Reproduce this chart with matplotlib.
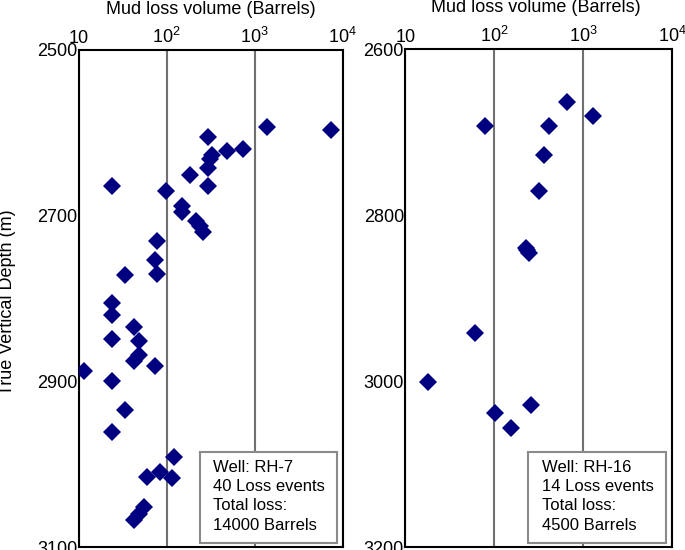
import matplotlib
matplotlib.use("Agg")
import matplotlib.pyplot as plt
from matplotlib.patches import Rectangle

plt.rcParams['font.family'] = ['Liberation Sans', 'DejaVu Sans']
plt.rcParams['mathtext.fontset'] = 'custom'
plt.rcParams['mathtext.rm'] = 'Liberation Sans'

# ---- data ----
vol_rh7 = [1370, 7330, 296, 731, 482, 329, 307, 296, 182, 24,
           296, 97, 148, 148, 217, 237, 258, 78, 73, 78,
           34, 24, 24, 42, 24, 48, 48, 42, 73, 11.5,
           24, 34, 24, 120, 60, 83, 115, 55, 48, 42]
depth_rh7 = [2593, 2596, 2605, 2620, 2622, 2627, 2631, 2643, 2651, 2664,
             2664, 2670, 2688, 2696, 2707, 2713, 2720, 2731, 2754, 2770,
             2772, 2806, 2820, 2834, 2849, 2851, 2868, 2876, 2881, 2887,
             2899, 2935, 2961, 2991, 3016, 3010, 3017, 3052, 3060, 3067]

vol_rh16 = [661, 1294, 78.7, 415, 362, 318, 225, 245, 235, 60.7, 18.1, 102, 258, 153]
depth_rh16 = [2664, 2680, 2693, 2693, 2727, 2771, 2839, 2845, 2842, 2942, 3001, 3038, 3029, 3056]

x_ticks = [10, 100, 1000, 10000]
x_ticklabels = ['10', r'$\mathregular{10^2}$', r'$\mathregular{10^3}$', r'$\mathregular{10^4}$']
y_ticks_rh7 = [2500, 2700, 2900, 3100]
y_ticks_rh16 = [2600, 2800, 3000, 3200]
info_rh7 = "Well: RH-7\n40 Loss events\nTotal loss:\n14000 Barrels"
info_rh16 = "Well: RH-16\n14 Loss events\nTotal loss:\n4500 Barrels"
xlabel = "Mud loss volume (Barrels)"
ylabel = "True Vertical Depth (m)"

W, H = 685, 550
fig = plt.figure(figsize=(W / 100, H / 100), dpi=100)

def make_panel(rect, vols, depths, yticks, info, box, textx):
    ax = fig.add_axes(rect)
    ax.set_xscale('log')
    ax.set_xlim(10, 10000)
    ax.set_ylim(yticks[-1], yticks[0])
    ax.set_xticks(x_ticks)
    ax.set_xticklabels(x_ticklabels)
    ax.minorticks_off()
    ax.set_yticks(yticks)
    ax.xaxis.tick_top()
    ax.tick_params(axis='both', length=0, labelsize=13)
    ax.tick_params(axis='x', pad=2.5)
    ax.tick_params(axis='y', pad=1)
    ax.grid(True, axis='x', color='#707070', linewidth=1.5)
    ax.set_axisbelow(True)
    for s in ax.spines.values():
        s.set_linewidth(1.5)
        s.set_color('black')
    ax.plot(vols, depths, linestyle='none', marker='D', markersize=9,
            color='#000080', markeredgewidth=0, zorder=3)
    ax.add_patch(Rectangle((box[0], box[1]), box[2], box[3], transform=ax.transAxes,
                           facecolor='white', edgecolor='#8a8a8a', linewidth=1.5, zorder=4))
    ax.text(textx, box[1] + box[3] - 0.016, info, transform=ax.transAxes, fontsize=12,
            va='top', ha='left', linespacing=1.36, zorder=5)
    return ax

ax1 = make_panel([78.7 / W, 3 / H, 264 / W, 497 / H], vol_rh7, depth_rh7, y_ticks_rh7,
                 info_rh7, (0.4595, 0.0074, 0.5178, 0.1843), 0.51)
ax2 = make_panel([405.3 / W, 3 / H, 267 / W, 497.7 / H], vol_rh16, depth_rh16, y_ticks_rh16,
                 info_rh16, (0.4607, 0.0074, 0.5157, 0.1841), 0.513)

fig.text(210.7 / W, 1 - 10 / H, xlabel, ha='center', va='center', fontsize=13)
fig.text(536 / W, 1 - 8 / H, xlabel, ha='center', va='center', fontsize=13)
fig.text(8 / W, 1 - 302 / H, ylabel, ha='center', va='center', rotation=90, fontsize=13)

fig.savefig('out.png', dpi=100)
